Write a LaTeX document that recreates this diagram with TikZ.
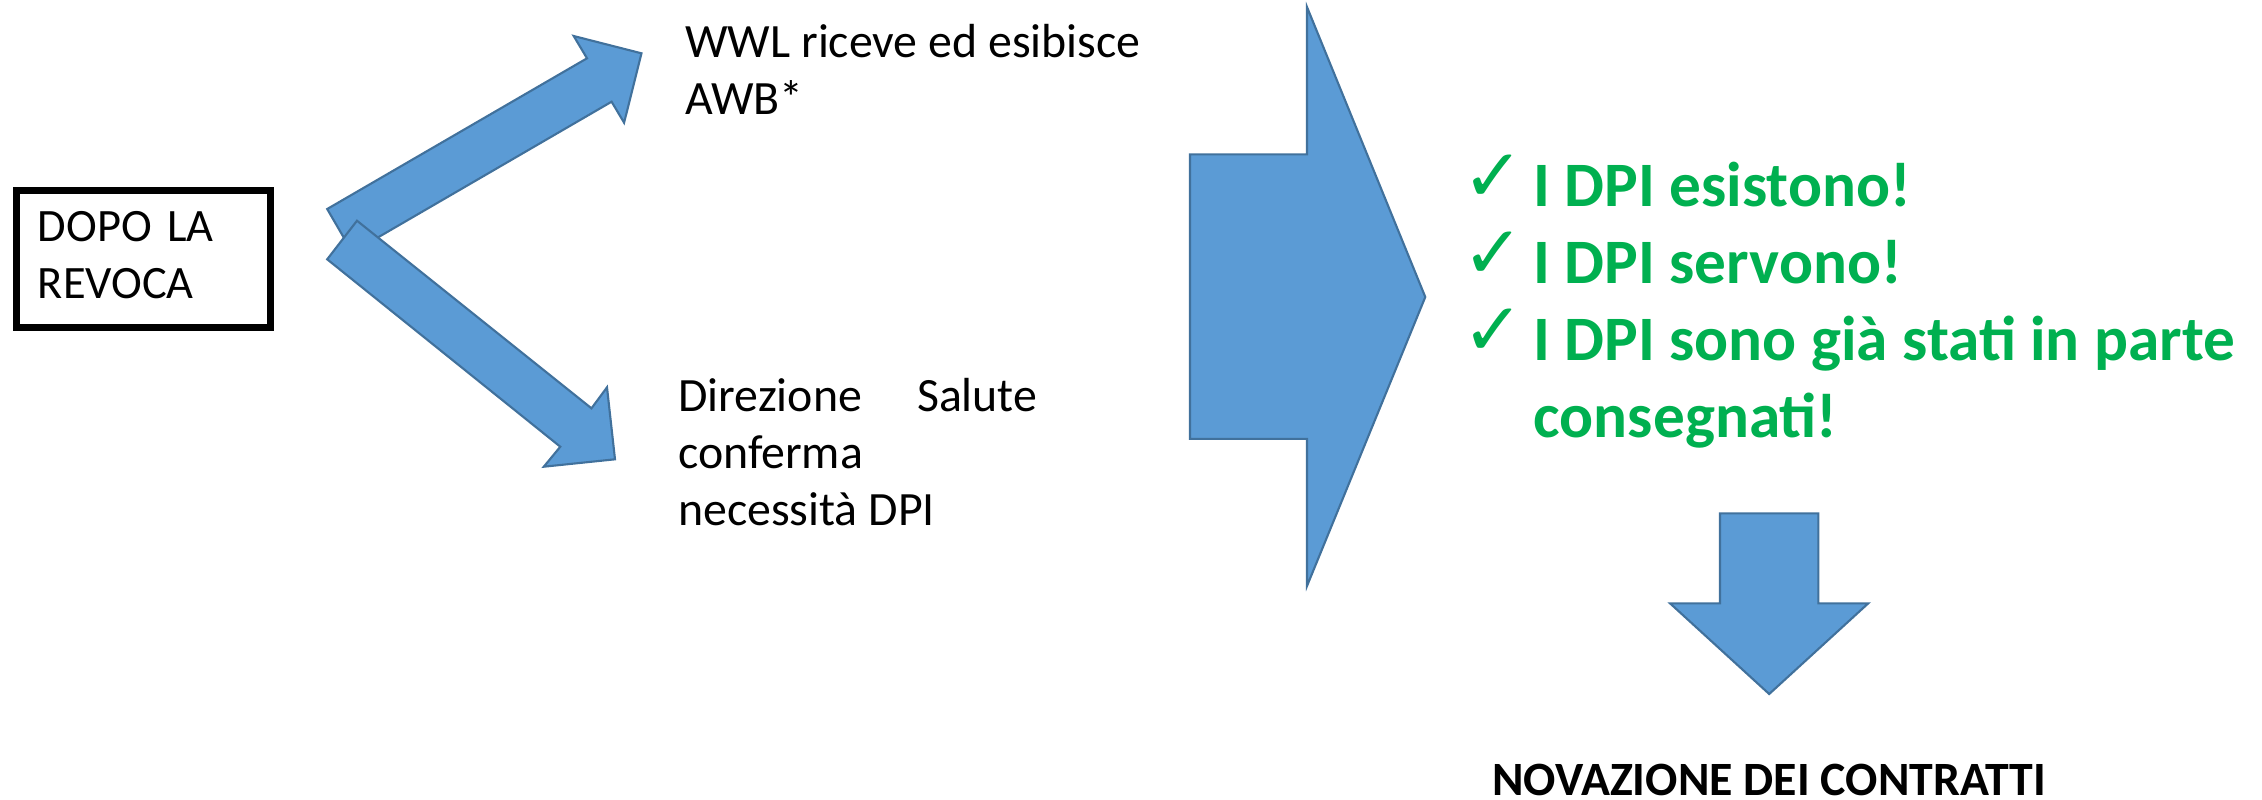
\documentclass[tikz,border=0pt]{standalone}
\usepackage{fontspec}
\setmainfont{Carlito}
\newfontfamily\tickfont{DejaVu Sans}
\definecolor{arrowblue}{HTML}{5B9BD5}
\definecolor{arrowedge}{HTML}{41719C}
\definecolor{okgreen}{HTML}{00B050}

\begin{document}
\begin{tikzpicture}[x=0.01cm, y=-0.01cm,
    blockarrow/.style={fill=arrowblue, draw=arrowedge, line width=0.6pt, line join=miter},
    plaintext/.style={font=\fontsize{13.6}{16.2}\selectfont, inner sep=0pt, anchor=base west, align=left},
    claim/.style={font=\fontsize{18}{21.9}\selectfont\bfseries, text=okgreen, inner sep=0pt, anchor=base west},
    tick/.style={font=\tickfont\fontsize{21}{21}\selectfont, text=okgreen, inner sep=0pt, anchor=base west}]
  \useasboundingbox (0,0) rectangle (2262,799);

  % starting box
  \node[draw, line width=2.1pt, minimum width=2.544cm, minimum height=1.348cm,
        text width=2.11cm, inner xsep=0.217cm,
        font=\fontsize{13.2}{16.2}\selectfont] (revoca) at (143.5,258.9)
    {\begin{tabular}{@{}l@{}}DOPO LA\\REVOCA\end{tabular}};

  % two branches
  \draw[blockarrow] (327.2,209) -- (587,58.3) -- (573.7,36) -- (641.5,53.3)
    -- (624.1,122.7) -- (611.6,101.7) -- (352.3,252.3) -- cycle;
  \draw[blockarrow] (357,220.7) -- (591.5,408.3) -- (607,387.3) -- (615,459.3)
    -- (543.8,466.7) -- (560.3,446.7) -- (327.2,259.3) -- cycle;

  % base anchor sits on the last line
  \node[plaintext] (awb) at (684.6,114.3) {WWL riceve ed esibisce\\AWB*};
  \node[plaintext] (salute) at (677.5,525)
    {\makebox[3.59cm][s]{Direzione Salute}\\conferma\\necessità DPI};

  % big arrow to the results
  \draw[blockarrow] (1190,154.4) -- (1307,154.4) -- (1307,7) -- (1425.3,297)
    -- (1307,586) -- (1307,438.8) -- (1190,438.8) -- cycle;

  \foreach \txt[count=\i] in {I DPI esistono!, I DPI servono!, I DPI sono già stati in parte} {
    \node[tick] (tick\i) at (1462,124+77*\i) {✓};
    \node[claim] (claim\i) at (1533,129.4+77*\i) {\txt};
  }
  \node[claim] (claim4) at (1533,437.4) {consegnati!};

  % down arrow
  \draw[blockarrow] (1720,513.3) -- (1818.3,513.3) -- (1818.3,603.3) -- (1868.3,603.3)
    -- (1769.2,694) -- (1670,603.3) -- (1720,603.3) -- cycle;

  \node[font=\fontsize{13.6}{16}\selectfont\bfseries, inner sep=0pt, anchor=base]
    (novazione) at (1769.2,795) {NOVAZIONE DEI CONTRATTI};
\end{tikzpicture}
\end{document}
